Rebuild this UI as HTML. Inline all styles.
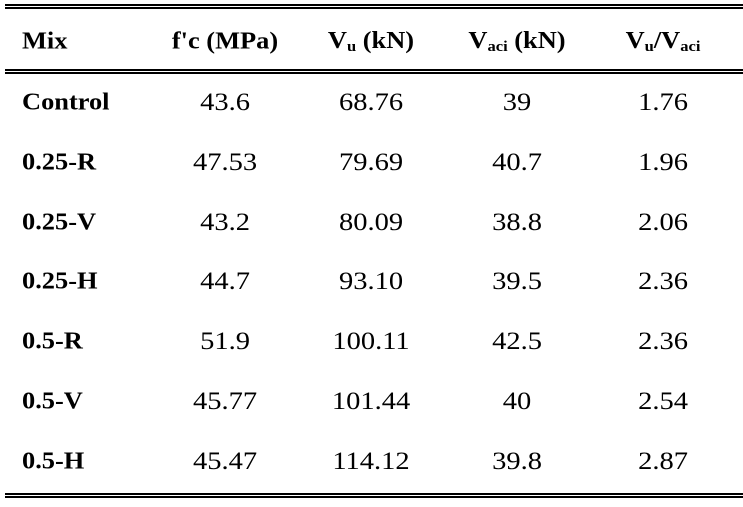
<!DOCTYPE html>
<html><head><meta charset="utf-8"><style>
body{margin:0;width:743px;height:507px;background:#fff;position:relative;overflow:hidden;font-family:"Liberation Serif",serif;color:#000}
.l{position:absolute;left:5px;right:0;height:2px;background:#000}
.c{position:absolute;font-size:25px;white-space:nowrap;transform:translate(-50%,-50%) scaleX(1.14)}
.m{position:absolute;font-size:24px;font-weight:bold;left:22px;transform-origin:left center;transform:translateY(-50%) scaleX(1.1)}
.h{font-weight:bold;font-size:24px}
.c.h{transform:translate(-50%,-50%) scaleX(1.1)}
sub{font-size:15px;vertical-align:-3px}
</style></head><body>
<div class="l" style="top:4px"></div>
<div class="l" style="top:7px"></div>
<div class="l" style="top:69px"></div>
<div class="l" style="top:72px"></div>
<div class="l" style="top:493px"></div>
<div class="l" style="top:496px"></div>
<div class="m h" style="top:42px">Mix</div>
<div class="c h" style="left:225px;top:42px">f'c (MPa)</div>
<div class="c h" style="left:371px;top:42px">V<sub>u</sub> (kN)</div>
<div class="c h" style="left:517px;top:42px">V<sub>aci</sub> (kN)</div>
<div class="c h" style="left:663px;top:42px">V<sub>u</sub>/V<sub>aci</sub></div>
<div id="rows"></div>
<script>
const mixes=["Control","0.25-R","0.25-V","0.25-H","0.5-R","0.5-V","0.5-H"];
const fc=["43.6","47.53","43.2","44.7","51.9","45.77","45.47"];
const vu=["68.76","79.69","80.09","93.10","100.11","101.44","114.12"];
const vaci=["39","40.7","38.8","39.5","42.5","40","39.8"];
const ratio=["1.76","1.96","2.06","2.36","2.36","2.54","2.87"];
const root=document.getElementById('rows');
const cols=[[225,fc,'fc'],[371,vu,'vu'],[517,vaci,'vaci'],[663,ratio,'ratio']];
mixes.forEach((m,i)=>{
  const y=103+i*59.8;
  const d=document.createElement('div');
  d.className='m';d.style.top=y+'px';d.textContent=m;
  
  
  root.appendChild(d);
  cols.forEach(([x,arr,n])=>{
    const e=document.createElement('div');
    e.className='c';e.style.left=x+'px';e.style.top=y+'px';e.textContent=arr[i];
    
    
    root.appendChild(e);
  });
});
</script>
</body></html>
